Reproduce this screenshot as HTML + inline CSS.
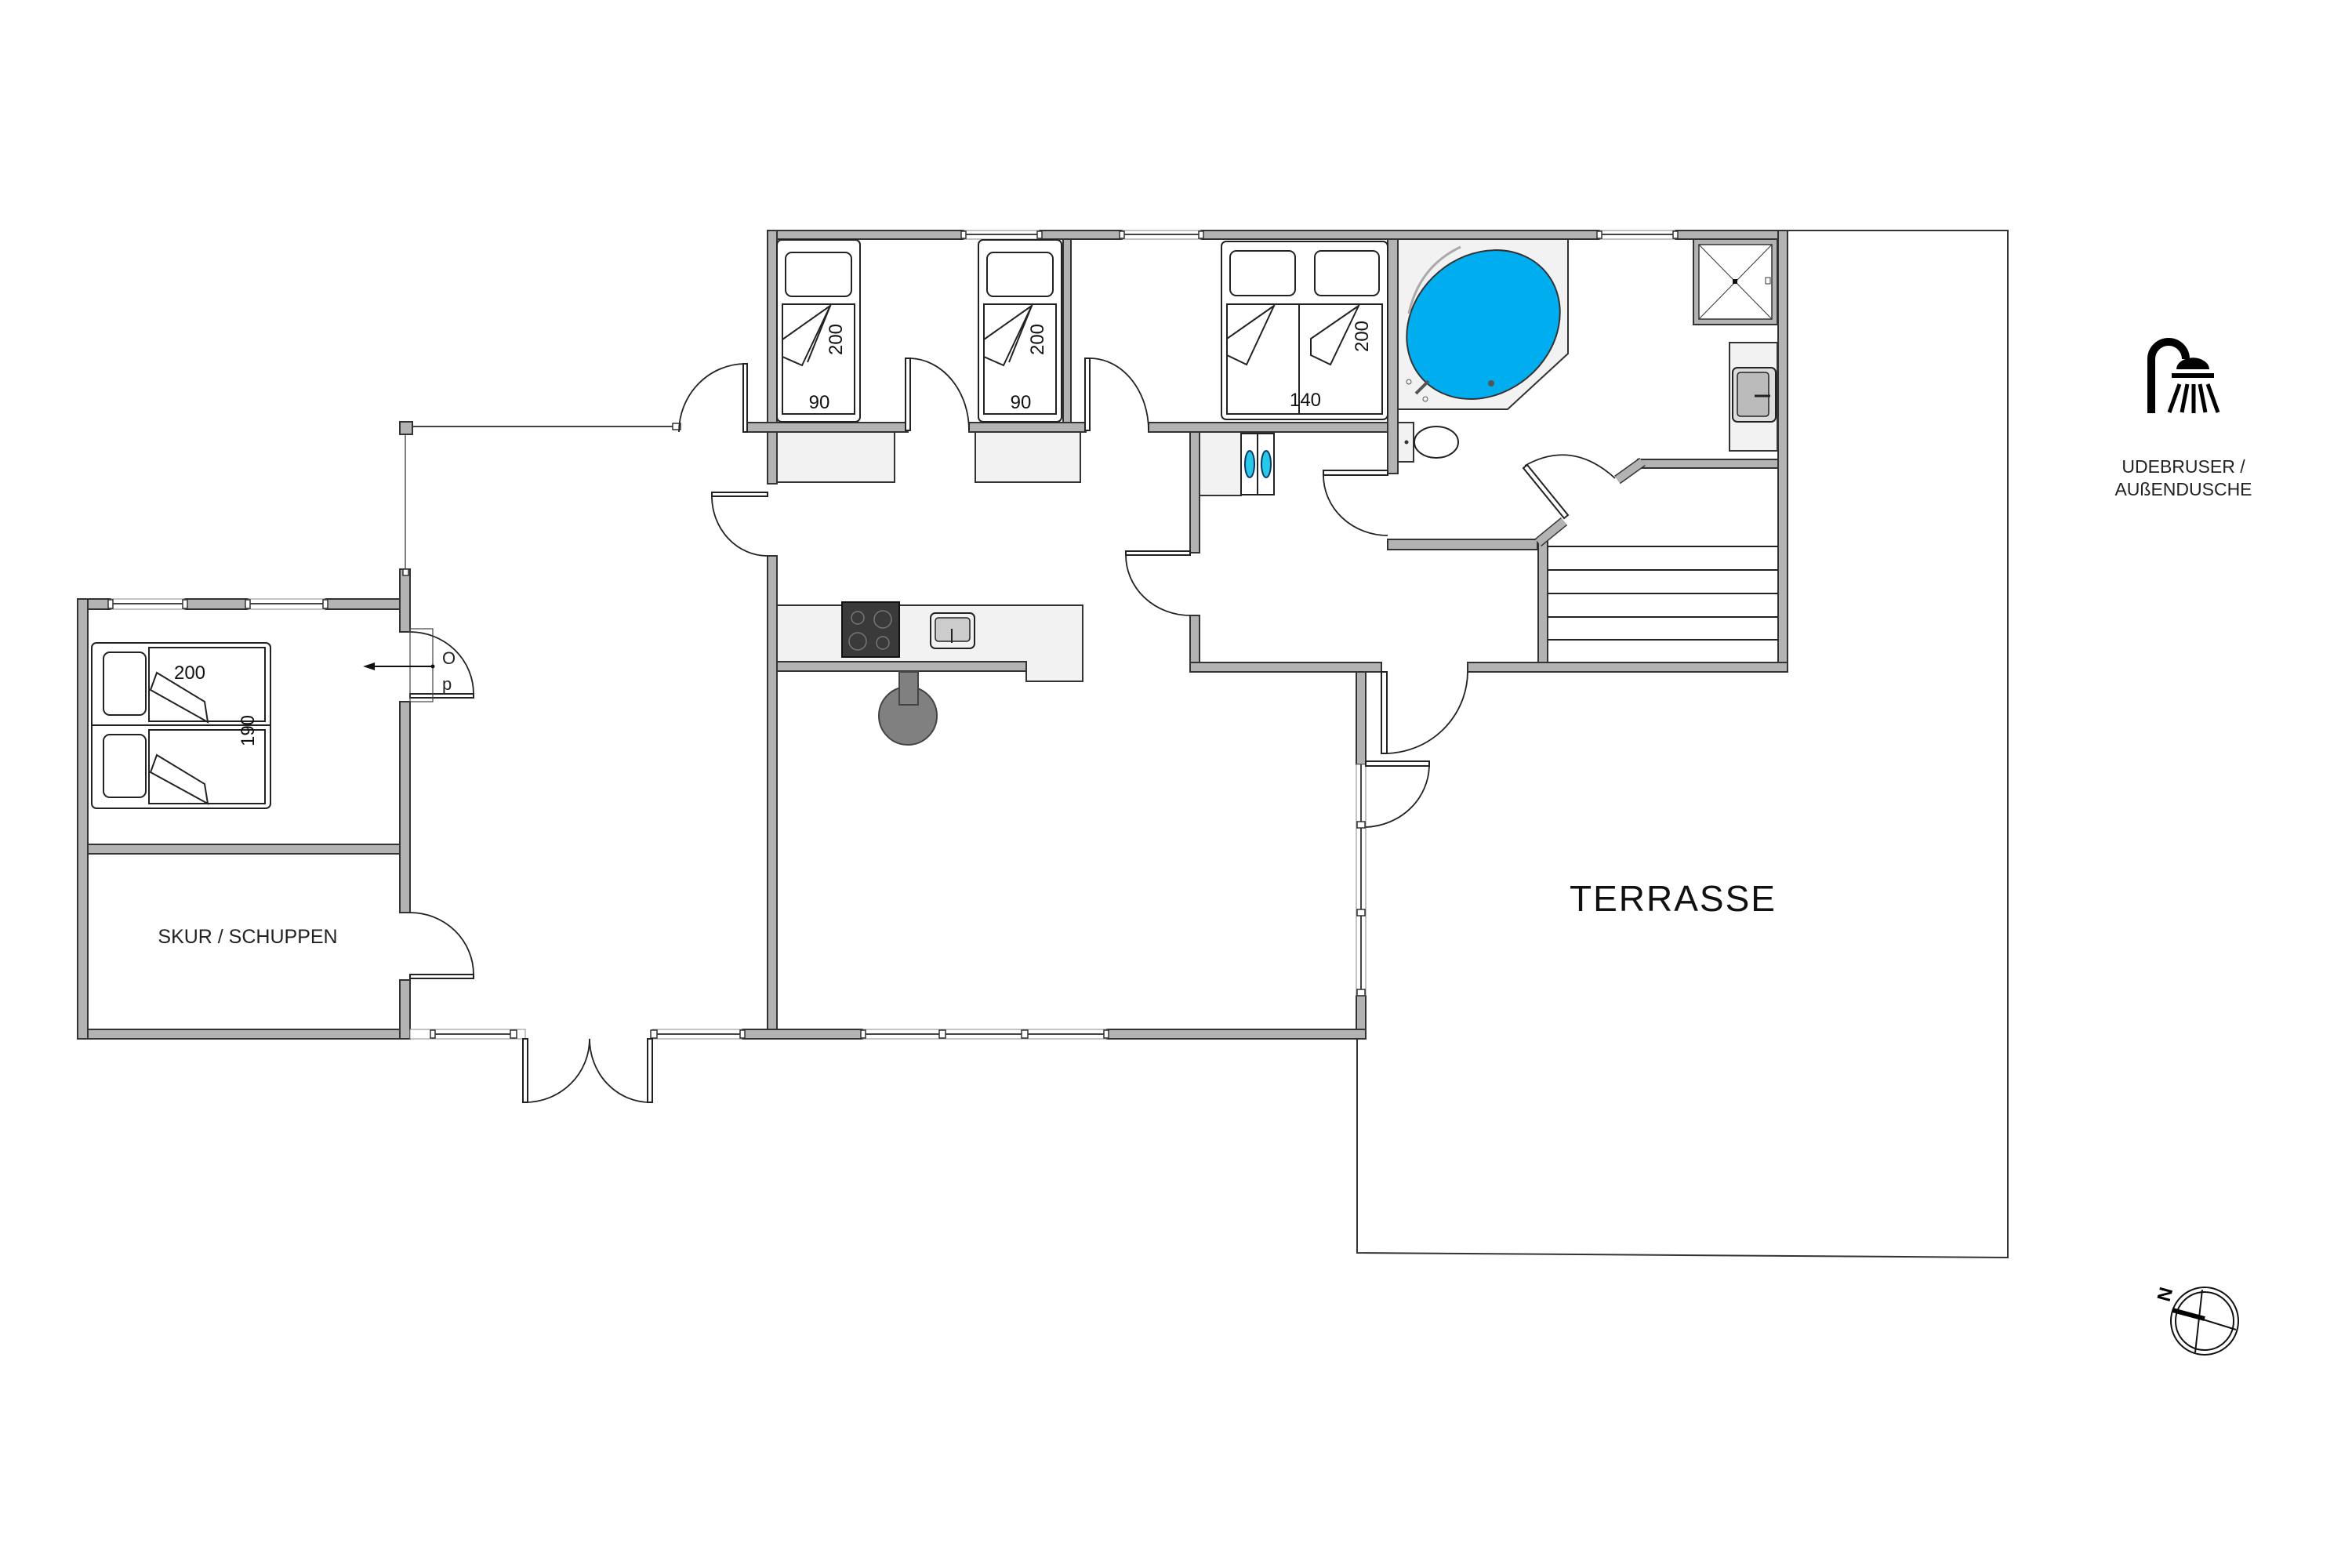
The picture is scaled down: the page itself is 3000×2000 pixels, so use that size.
<!DOCTYPE html>
<html><head><meta charset="utf-8"><style>
html,body{margin:0;padding:0;background:#fff;}
svg{display:block;}
text{font-family:"Liberation Sans",Arial,sans-serif;}
</style></head><body>
<svg width="3000" height="2000" viewBox="0 0 3000 2000" xmlns="http://www.w3.org/2000/svg">
<rect width="3000" height="2000" fill="#fff"/>

<!-- Terrace outline -->
<polyline points="2280,294 2561,294 2561,1604 1731,1598 1731,1325" fill="none" stroke="#333" stroke-width="2"/>

<!-- Fixtures fill (light grey) -->
<g fill="#f2f2f2" stroke="#333" stroke-width="2">
  <rect x="991" y="551" width="150" height="64"/>
  <rect x="1244" y="551" width="134" height="64"/>
  <path d="M991,772 H1381 V869 H1309 V844 H991 Z"/>
  <rect x="1530" y="551" width="53" height="81"/>
  <polygon points="1783,305 2000,305 2000,451 1923,522 1783,522"/>
  <rect x="2206" y="437" width="61" height="138"/>
  <rect x="1783" y="539" width="20" height="50"/>
</g>

<!-- Walls -->
<g fill="#b3b3b3" stroke="#333" stroke-width="2">
  <rect x="979" y="294" width="250" height="11"/>
  <rect x="1326" y="294" width="105" height="11"/>
  <rect x="1532" y="294" width="508" height="11"/>
  <rect x="2137" y="294" width="143" height="11"/>
  <rect x="2268" y="294" width="12" height="563"/>
  <rect x="979" y="294" width="12" height="323"/>
  <rect x="979" y="709" width="12" height="616"/>
  <rect x="951" y="539" width="207" height="12"/>
  <rect x="1236" y="539" width="149" height="12"/>
  <rect x="1465" y="539" width="318" height="12"/>
  <rect x="1356" y="305" width="10" height="234"/>
  <rect x="1770" y="305" width="13" height="299"/>
  <rect x="1770" y="688" width="191" height="13"/>
  <rect x="1962" y="690" width="12" height="167"/>
  <rect x="2089" y="586" width="179" height="11"/>
  <rect x="1518" y="551" width="12" height="154"/>
  <rect x="1518" y="785" width="12" height="72"/>
  <rect x="1518" y="845" width="244" height="12"/>
  <rect x="1872" y="845" width="408" height="12"/>
  <rect x="991" y="844" width="318" height="12"/>
  <rect x="1730" y="857" width="12" height="118"/>
  <rect x="1730" y="1270" width="12" height="55"/>
  <rect x="99" y="1313" width="424" height="12"/>
  <rect x="947" y="1313" width="153" height="12"/>
  <rect x="1412" y="1313" width="330" height="12"/>
  <rect x="99" y="764" width="42" height="13"/>
  <rect x="236" y="764" width="80" height="13"/>
  <rect x="415" y="764" width="108" height="13"/>
  <rect x="99" y="764" width="13" height="561"/>
  <rect x="112" y="1077" width="398" height="12"/>
  <rect x="510" y="726" width="13" height="80"/>
  <rect x="510" y="895" width="13" height="269"/>
  <rect x="510" y="1250" width="13" height="75"/>
</g>
<g stroke="#333" stroke-width="13" fill="none"><line x1="1962" y1="692" x2="1995" y2="665"/><line x1="2063" y1="612" x2="2095" y2="589"/></g>
<g stroke="#b3b3b3" stroke-width="10" fill="none"><line x1="1962" y1="692" x2="1995" y2="665"/><line x1="2063" y1="612" x2="2095" y2="589"/></g>

<!-- Windows -->
<g fill="#fff" stroke="#888" stroke-width="1">
  <rect x="1229" y="294" width="97" height="11"/><rect x="1431" y="294" width="101" height="11"/><rect x="2040" y="294" width="97" height="11"/>
  <rect x="141" y="764" width="95" height="13"/><rect x="316" y="764" width="99" height="13"/>
  <rect x="523" y="1313" width="147" height="12"/><rect x="832" y="1313" width="115" height="12"/>
  <rect x="1100" y="1313" width="312" height="12"/>
  <rect x="1730" y="975" width="12" height="295"/>
</g>
<g stroke="#444" stroke-width="2">
  <line x1="1229" y1="299" x2="1326" y2="299"/><line x1="1431" y1="299" x2="1532" y2="299"/><line x1="2040" y1="299" x2="2137" y2="299"/>
  <line x1="141" y1="770" x2="236" y2="770"/><line x1="316" y1="770" x2="415" y2="770"/>
  <line x1="552" y1="1319" x2="654" y2="1319"/><line x1="832" y1="1319" x2="947" y2="1319"/>
  <line x1="1100" y1="1319" x2="1412" y2="1319"/>
  <line x1="1736" y1="975" x2="1736" y2="1270"/>
  <line x1="526" y1="544" x2="864" y2="544"/>
</g>
<line x1="517" y1="554" x2="517" y2="733" stroke="#555" stroke-width="1.5"/>
<rect x="510" y="538" width="16" height="16" fill="#b3b3b3" stroke="#333" stroke-width="2"/>
<g fill="#fff" stroke="#333" stroke-width="1.5">
  <rect x="1226" y="295" width="6" height="9"/><rect x="1323" y="295" width="6" height="9"/><rect x="1428" y="295" width="6" height="9"/><rect x="1529" y="295" width="6" height="9"/><rect x="2037" y="295" width="6" height="9"/><rect x="2134" y="295" width="6" height="9"/>
  <rect x="138" y="765" width="6" height="11"/><rect x="233" y="765" width="6" height="11"/><rect x="313" y="765" width="6" height="11"/><rect x="412" y="765" width="6" height="11"/>
  <rect x="549" y="1314" width="6" height="10"/><rect x="651" y="1314" width="8" height="10"/><rect x="830" y="1314" width="8" height="10"/><rect x="944" y="1314" width="6" height="10"/>
  <rect x="1098" y="1314" width="6" height="10"/><rect x="1198" y="1314" width="8" height="10"/><rect x="1303" y="1314" width="8" height="10"/><rect x="1408" y="1314" width="6" height="10"/>
  <rect x="1731" y="1048" width="10" height="8"/><rect x="1731" y="1160" width="10" height="8"/><rect x="1731" y="1262" width="10" height="8"/>
  <rect x="858" y="540" width="10" height="8"/><rect x="514" y="726" width="7" height="8"/>
</g>

<!-- Doors: leaves -->
<g fill="#fff" stroke="#222" stroke-width="2">
  <rect x="948" y="464" width="5" height="87"/>
  <rect x="1155" y="457" width="6" height="92"/>
  <rect x="1384" y="457" width="6" height="92"/>
  <rect x="908" y="628" width="71" height="5"/>
  <rect x="1436" y="703" width="82" height="5"/>
  <rect x="1688" y="600" width="82" height="6"/>
  <polygon points="1943,597 1948,593 2000,657 1995,661"/>
  <rect x="1762" y="857" width="7" height="104"/>
  <rect x="1742" y="971" width="81" height="6"/>
  <rect x="523" y="885" width="81" height="5"/>
  <rect x="523" y="1243" width="81" height="5"/>
  <rect x="667" y="1325" width="6" height="81"/>
  <rect x="826" y="1325" width="6" height="81"/>
</g>
<g fill="none" stroke="#222" stroke-width="1.8">
  <path d="M951,464 A85,87 0 0 0 866,551"/>
  <path d="M1161,457 A77,92 0 0 1 1236,549"/>
  <path d="M1390,457 A75,92 0 0 1 1465,549"/>
  <path d="M908,633 A71,76 0 0 0 979,709"/>
  <path d="M1436,708 A82,77 0 0 0 1518,785"/>
  <path d="M1688,606 A82,77 0 0 0 1770,683"/>
  <path d="M1945,594 Q2005,560 2060,610"/>
  <path d="M1766,961 A106,105 0 0 0 1872,857"/>
  <path d="M1823,977 A84,80 0 0 1 1742,1055"/>
  <path d="M604,885 A81,79 0 0 0 523,806"/>
  <path d="M604,1243 A81,79 0 0 0 523,1164"/>
  <path d="M670,1406 A82,81 0 0 0 752,1325"/>
  <path d="M829,1406 A77,81 0 0 1 752,1325"/>
</g>
<rect x="523" y="802" width="29" height="93" fill="none" stroke="#444" stroke-width="1.2"/>
<line x1="552" y1="850" x2="475" y2="850" stroke="#111" stroke-width="2"/>
<polygon points="463,850 478,845 478,855" fill="#111"/>
<circle cx="552" cy="850" r="2.5" fill="#111"/>
<text x="564" y="847" font-size="22" fill="#222">O</text>
<text x="564" y="880" font-size="22" fill="#222">p</text>

<!-- Beds -->
<g fill="#fff" stroke="#222" stroke-width="2">
  <rect x="991" y="306" width="106" height="232" rx="6"/>
  <rect x="998" y="388" width="92" height="140"/>
  <rect x="1002" y="322" width="84" height="56" rx="8"/>
  <polygon points="1059,390 998,433 998,455 1023,466"/>
  <line x1="1059" y1="390" x2="1030" y2="462"/>
  <rect x="1248" y="306" width="106" height="232" rx="6"/>
  <rect x="1255" y="388" width="92" height="140"/>
  <rect x="1259" y="322" width="84" height="56" rx="8"/>
  <polygon points="1316,390 1255,433 1255,455 1280,466"/>
  <line x1="1316" y1="390" x2="1287" y2="462"/>
  <rect x="1558" y="308" width="212" height="227" rx="6"/>
  <rect x="1565" y="388" width="92" height="140"/>
  <rect x="1657" y="388" width="106" height="140"/>
  <rect x="1569" y="320" width="83" height="57" rx="8"/>
  <rect x="1677" y="320" width="82" height="57" rx="8"/>
  <polygon points="1625,390 1565,432 1565,453 1590,465"/>
  <polygon points="1733,390 1672,432 1672,453 1697,465"/>
  <rect x="117" y="820" width="228" height="211" rx="6"/>
  <line x1="117" y1="925" x2="345" y2="925"/>
  <rect x="190" y="826" width="148" height="94"/>
  <rect x="190" y="931" width="148" height="94"/>
  <rect x="132" y="832" width="54" height="80" rx="8"/>
  <rect x="132" y="937" width="54" height="80" rx="8"/>
  <polygon points="192,880 265,921 261,895 200,858"/>
  <polygon points="192,985 265,1025 261,1000 200,963"/>
</g>
<g font-size="24" fill="#111" text-anchor="middle">
  <text x="1045" y="521">90</text>
  <text x="1302" y="521">90</text>
  <text x="1665" y="518">140</text>
  <text x="242" y="866">200</text>
  <text transform="translate(1074,433) rotate(-90)">200</text>
  <text transform="translate(1331,433) rotate(-90)">200</text>
  <text transform="translate(1745,429) rotate(-90)">200</text>
  <text transform="translate(324,932) rotate(-90)">190</text>
</g>

<!-- Kitchen -->
<rect x="1074" y="768" width="73" height="70" fill="#3a3a3a" stroke="#111" stroke-width="2"/>
<g fill="none" stroke="#777" stroke-width="1.5"><circle cx="1094" cy="788" r="8"/><circle cx="1126" cy="790" r="11"/><circle cx="1094" cy="818" r="11"/><circle cx="1126" cy="820" r="8"/></g>
<rect x="1187" y="782" width="56" height="45" rx="6" fill="#f2f2f2" stroke="#222" stroke-width="2"/>
<rect x="1193" y="788" width="44" height="30" rx="4" fill="#ccc" stroke="#222" stroke-width="1.5"/>
<line x1="1214" y1="802" x2="1214" y2="820" stroke="#222" stroke-width="2"/>
<circle cx="1158" cy="913" r="37" fill="#808080" stroke="#444" stroke-width="2"/>
<rect x="1147" y="857" width="24" height="42" fill="#808080" stroke="#444" stroke-width="2"/>

<!-- Washing machines -->
<g fill="#fff" stroke="#222" stroke-width="2"><rect x="1583" y="553" width="21" height="78"/><rect x="1604" y="553" width="21" height="78"/></g>
<g fill="#28c8e8" stroke="#0a3a6a" stroke-width="2"><ellipse cx="1594" cy="592" rx="6" ry="17"/><ellipse cx="1615" cy="592" rx="6" ry="17"/></g>

<!-- Bathtub -->
<ellipse cx="1892" cy="414" rx="104" ry="88" transform="rotate(-40 1892 414)" fill="#00aeef" stroke="#333" stroke-width="2"/>
<path d="M1797,400 Q1810,340 1863,315" fill="none" stroke="#aaa" stroke-width="3"/>
<circle cx="1902" cy="489" r="4" fill="#555"/>
<line x1="1806" y1="502" x2="1822" y2="486" stroke="#555" stroke-width="4"/>
<circle cx="1797" cy="487" r="3" fill="none" stroke="#555"/><circle cx="1818" cy="509" r="3" fill="none" stroke="#555"/>
<ellipse cx="1832" cy="564" rx="28" ry="20" fill="#fff" stroke="#222" stroke-width="2"/>
<circle cx="1794" cy="564" r="2.5" fill="#333"/>

<!-- Shower -->
<rect x="2160" y="305" width="107" height="109" fill="#b3b3b3" stroke="#333" stroke-width="2"/>
<rect x="2167" y="312" width="93" height="95" fill="#fff" stroke="#333" stroke-width="1.5"/>
<g stroke="#333" stroke-width="1"><line x1="2167" y1="312" x2="2260" y2="407"/><line x1="2260" y1="312" x2="2167" y2="407"/></g>
<rect x="2210" y="356" width="6" height="6" fill="#111"/>
<rect x="2252" y="354" width="6" height="8" fill="#fff" stroke="#333"/>
<rect x="2210" y="469" width="55" height="69" rx="6" fill="#ddd" stroke="#222" stroke-width="2"/>
<rect x="2216" y="475" width="40" height="56" rx="4" fill="#bbb" stroke="#222" stroke-width="1.5"/>
<line x1="2238" y1="505" x2="2258" y2="505" stroke="#222" stroke-width="3"/>

<!-- Stairs -->
<g stroke="#222" stroke-width="2"><line x1="1974" y1="697" x2="2268" y2="697"/><line x1="1974" y1="727" x2="2268" y2="727"/><line x1="1974" y1="757" x2="2268" y2="757"/><line x1="1974" y1="787" x2="2268" y2="787"/><line x1="1974" y1="816" x2="2268" y2="816"/></g>

<!-- Labels -->
<text x="2134" y="1162" font-size="46" text-anchor="middle" fill="#111" letter-spacing="2">TERRASSE</text>
<text x="316" y="1203" font-size="25" text-anchor="middle" fill="#222">SKUR / SCHUPPEN</text>
<text x="2785" y="603" font-size="23" text-anchor="middle" fill="#222">UDEBRUSER /</text>
<text x="2785" y="632" font-size="23" text-anchor="middle" fill="#222">AUßENDUSCHE</text>

<!-- Shower icon -->
<path d="M2744,527 V458 A22,22 0 0 1 2788,458" fill="none" stroke="#000" stroke-width="10"/>
<path d="M2776,471 A20,14 0 0 1 2818,471 Z" fill="#000"/>
<rect x="2770" y="476" width="54" height="6" fill="#000"/>
<g stroke="#000" stroke-width="5"><line x1="2780" y1="490" x2="2767" y2="526"/><line x1="2790" y1="490" x2="2783" y2="526"/><line x1="2798" y1="490" x2="2798" y2="527"/><line x1="2806" y1="490" x2="2813" y2="526"/><line x1="2816" y1="490" x2="2829" y2="526"/></g>

<!-- Compass -->
<circle cx="2812" cy="1685" r="43" fill="none" stroke="#111" stroke-width="2"/>
<circle cx="2812" cy="1685" r="37" fill="none" stroke="#111" stroke-width="2"/>
<line x1="2809" y1="1645" x2="2800" y2="1725" stroke="#111" stroke-width="2"/>
<line x1="2852" y1="1696" x2="2771" y2="1671" stroke="#111" stroke-width="2"/>
<line x1="2771" y1="1671" x2="2812" y2="1682" stroke="#000" stroke-width="6"/>
<text x="2766" y="1676" font-size="24" font-weight="bold" fill="#000" transform="rotate(-75 2757 1668)">N</text>
</svg>
</body></html>
